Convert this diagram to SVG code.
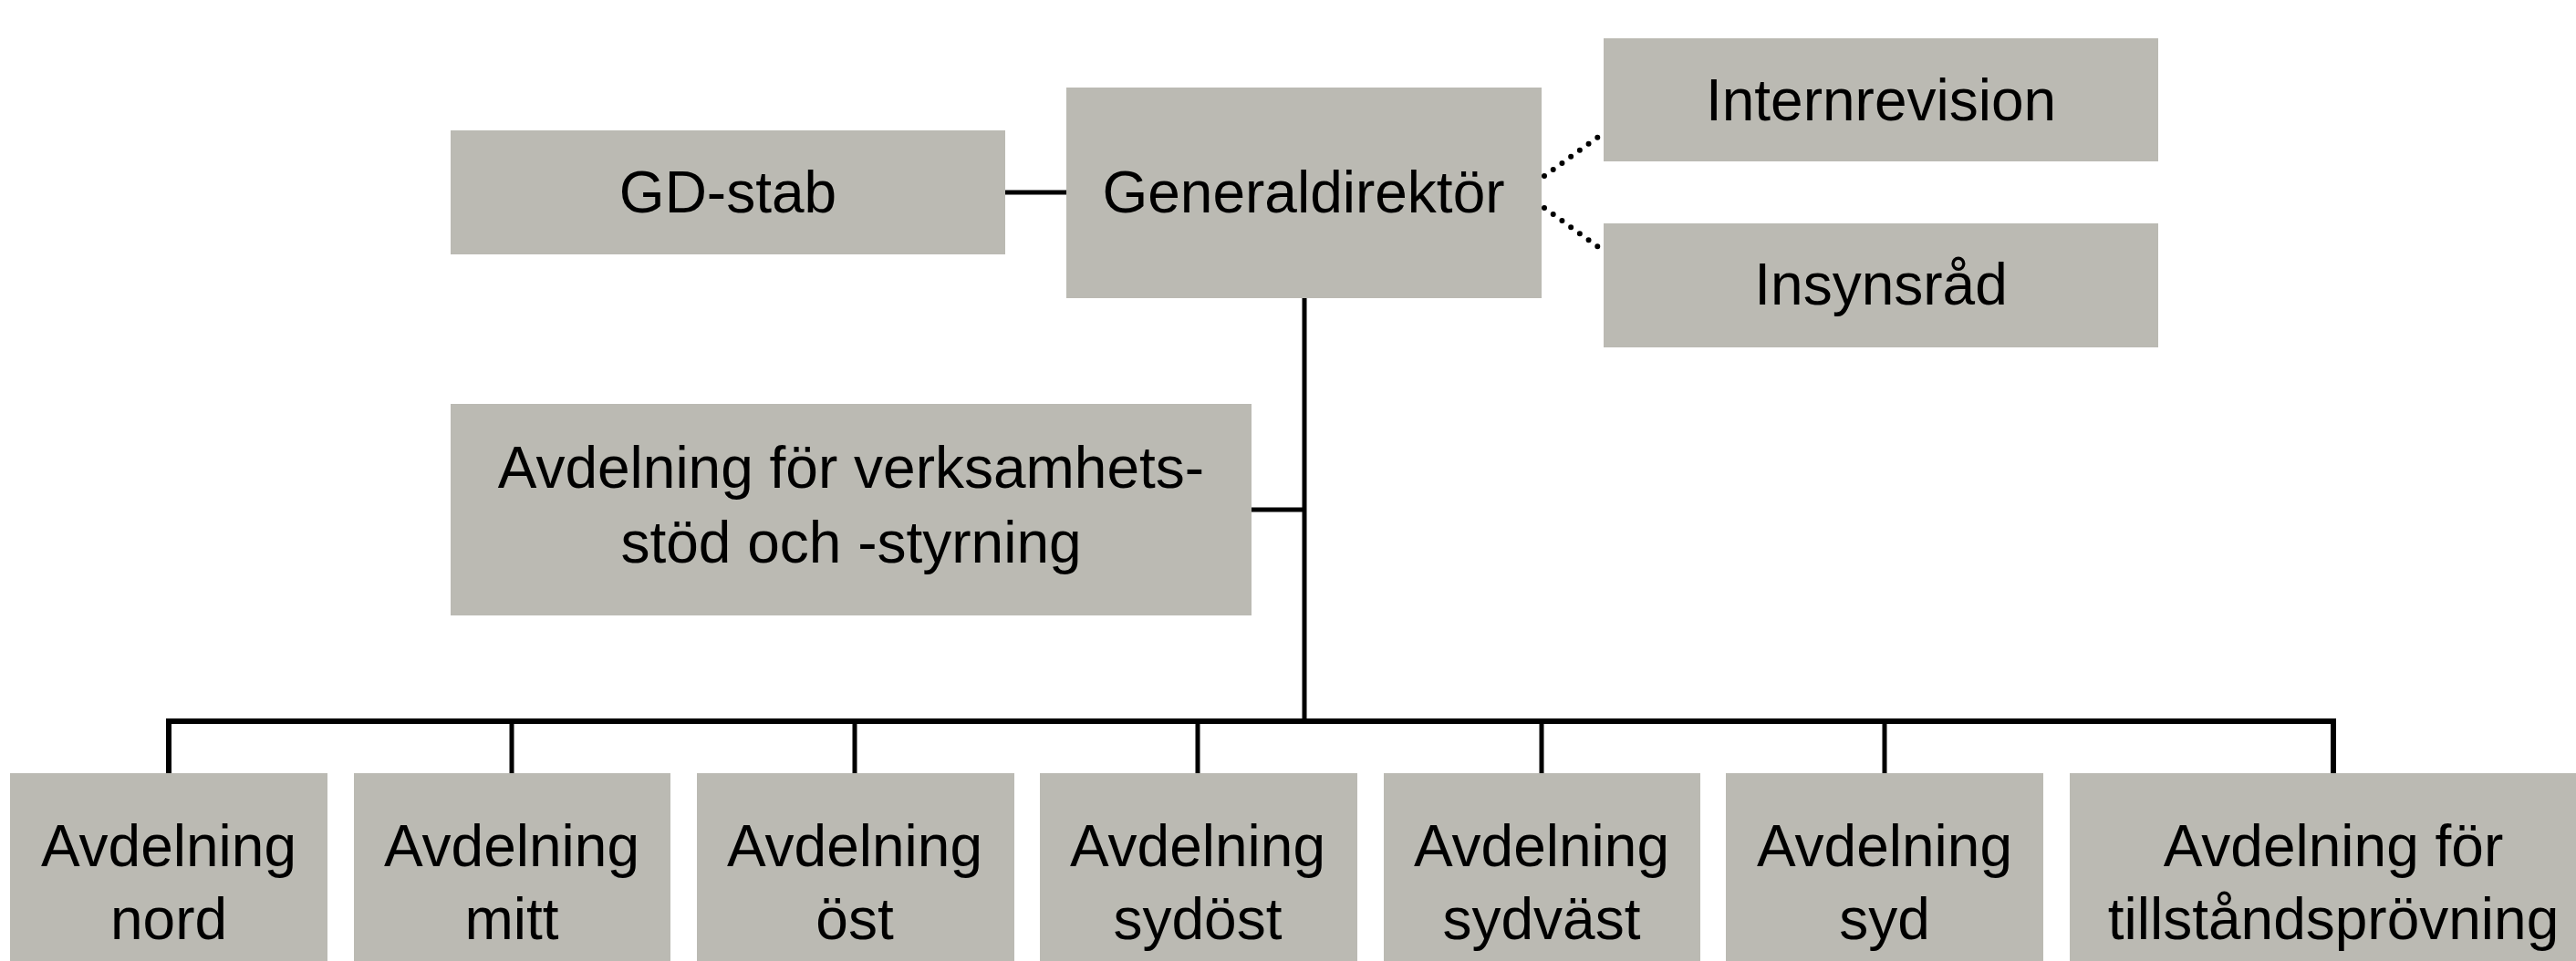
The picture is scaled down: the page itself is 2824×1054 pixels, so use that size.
<svg xmlns="http://www.w3.org/2000/svg" width="2824" height="1054" viewBox="0 0 2824 1054">
<style>
.box{fill:#bbbab3}
.t{font-family:"Liberation Sans",Arial,sans-serif;font-size:64px;fill:#000;text-anchor:middle}
.ln{stroke:#000;stroke-width:5;fill:none}
.bus{stroke:#000;stroke-width:6;fill:none}
.dot{stroke:#000;stroke-width:6;fill:none;stroke-linecap:round;stroke-dasharray:0 12}
</style>
<rect width="2824" height="1054" fill="#fff"/>
<g id="connectors">
<line class="ln" x1="1102" y1="211" x2="1169" y2="211"/>
<line class="ln" x1="1430" y1="327" x2="1430" y2="791"/>
<line class="ln" x1="1372" y1="559" x2="1430" y2="559"/>
<path class="dot" d="M1693 193 L1755 148"/>
<path class="dot" d="M1693 228 L1755 273"/>
<polyline class="bus" points="185,848 185,791 2558,791 2558,848"/>
<line class="ln" x1="561" y1="791" x2="561" y2="848"/>
<line class="ln" x1="937" y1="791" x2="937" y2="848"/>
<line class="ln" x1="1313" y1="791" x2="1313" y2="848"/>
<line class="ln" x1="1690" y1="791" x2="1690" y2="848"/>
<line class="ln" x1="2066" y1="791" x2="2066" y2="848"/>
</g>
<g id="gd-stab"><rect class="box" x="494" y="143" width="608" height="136"/><text class="t" x="798" y="233">GD-stab</text></g>
<g id="generaldirektor"><rect class="box" x="1169" y="96" width="521" height="231"/><text class="t" x="1429" y="233">Generaldirektör</text></g>
<g id="internrevision"><rect class="box" x="1758" y="42" width="608" height="135"/><text class="t" x="2062" y="132">Internrevision</text></g>
<g id="insynsrad"><rect class="box" x="1758" y="245" width="608" height="136"/><text class="t" x="2062" y="334">Insynsråd</text></g>
<g id="verksamhetsstod"><rect class="box" x="494" y="443" width="878" height="232"/><text class="t" x="933" y="535">Avdelning för verksamhets-</text><text class="t" x="933" y="617">stöd och -styrning</text></g>
<g id="nord"><rect class="box" x="11" y="848" width="348" height="220"/><text class="t" x="185" y="950">Avdelning</text><text class="t" x="185" y="1030">nord</text></g>
<g id="mitt"><rect class="box" x="388" y="848" width="347" height="220"/><text class="t" x="561" y="950">Avdelning</text><text class="t" x="561" y="1030">mitt</text></g>
<g id="ost"><rect class="box" x="764" y="848" width="348" height="220"/><text class="t" x="937" y="950">Avdelning</text><text class="t" x="937" y="1030">öst</text></g>
<g id="sydost"><rect class="box" x="1140" y="848" width="348" height="220"/><text class="t" x="1313" y="950">Avdelning</text><text class="t" x="1313" y="1030">sydöst</text></g>
<g id="sydvast"><rect class="box" x="1517" y="848" width="347" height="220"/><text class="t" x="1690" y="950">Avdelning</text><text class="t" x="1690" y="1030">sydväst</text></g>
<g id="syd"><rect class="box" x="1892" y="848" width="348" height="220"/><text class="t" x="2066" y="950">Avdelning</text><text class="t" x="2066" y="1030">syd</text></g>
<g id="tillstand"><rect class="box" x="2269" y="848" width="600" height="220"/><text class="t" x="2558" y="950">Avdelning för</text><text class="t" x="2558" y="1030">tillståndsprövning</text></g>
</svg>
